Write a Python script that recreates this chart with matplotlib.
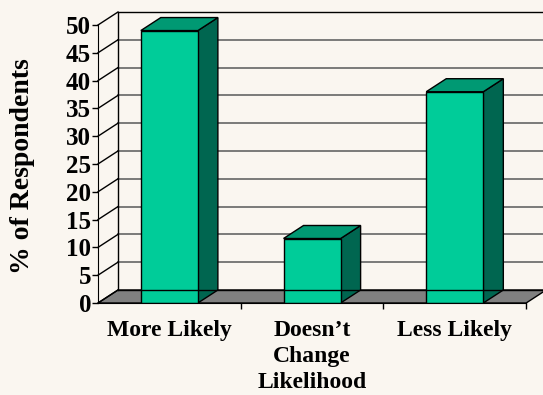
import matplotlib
matplotlib.use("Agg")
import matplotlib.pyplot as plt
from matplotlib.patches import Polygon, Rectangle

# data
categories = ["More Likely", "Doesn\u2019t\nChange\nLikelihood", "Less Likely"]
values = [49, 11.6, 38]
yticks = [0, 5, 10, 15, 20, 25, 30, 35, 40, 45, 50]

plt.rcParams['font.family'] = ['Liberation Serif', 'DejaVu Serif']
plt.rcParams['font.weight'] = 'bold'

bg = '#FAF6F0'
front_c = '#00CC99'
top_c = '#009973'
side_c = '#006650'
floor_c = '#808080'
grid_c = '#707070'

# depth offset of the 3d box (data units)
ddx, ddy = 0.14, 2.34
bw = 0.4

fig = plt.figure(figsize=(5.43, 3.95), dpi=100, facecolor=bg)
ax = fig.add_axes([98/543, 92/395, 445/543, 291/395])
ax.set_facecolor('none')
ax.set_xlim(-0.5, 2.618)
ax.set_ylim(0, 52.34)

n = len(categories)
x0, x1 = -0.5, n - 0.5

# floor
ax.add_patch(Polygon([(x0, 0), (x1, 0), (x1 + ddx, ddy), (x0 + ddx, ddy)],
                     closed=True, fc=floor_c, ec='black', lw=1, zorder=1, clip_on=False))

# back wall gridlines + left wall diagonals
for t in yticks:
    if t > 0:
        ax.plot([x0 + ddx, 2.7], [t + ddy, t + ddy], color=grid_c if t < 50 else 'black',
                lw=1.3 if t < 50 else 1, zorder=1, clip_on=False)
    ax.plot([x0, x0 + ddx], [t, t + ddy], color='black', lw=1, zorder=1, clip_on=False)
ax.plot([x0 + ddx, x0 + ddx], [ddy, 50 + ddy], color='black', lw=1, zorder=1)

# bars
for i, v in enumerate(values):
    l, r = i - bw/2, i + bw/2
    ax.add_patch(Polygon([(r, 0), (r + ddx, ddy), (r + ddx, v + ddy), (r, v)],
                         closed=True, fc=side_c, ec='black', lw=1, zorder=3))
    ax.add_patch(Polygon([(l, v), (r, v), (r + ddx, v + ddy), (l + ddx, v + ddy)],
                         closed=True, fc=top_c, ec='black', lw=1, zorder=3))
    ax.add_patch(Rectangle((l, 0), bw, v, fc=front_c, ec='black', lw=1, zorder=4))

# back edge of floor drawn over bars
ax.plot([x0 + ddx, x1 + ddx], [ddy, ddy], color='black', lw=1, zorder=5, clip_on=False)

for s in ['top', 'right']:
    ax.spines[s].set_visible(False)
ax.spines['left'].set_bounds(0, 50)
ax.spines['bottom'].set_bounds(x0, x1)
ax.spines['left'].set_zorder(6)
ax.spines['bottom'].set_zorder(6)

ax.set_yticks(yticks)
ax.tick_params(axis='y', length=4, width=1, labelsize=18, pad=1)
ax.set_xticks(range(n))
ax.set_xticklabels(categories, fontsize=17, linespacing=1.32)
ax.set_xticks([0.5, 1.5, 2.5], minor=True)
ax.tick_params(axis='x', which='major', length=0, pad=12)
ax.tick_params(axis='x', which='minor', length=4, width=1)
for lab in ax.get_yticklabels() + ax.get_xticklabels():
    lab.set_fontweight('bold')

fig.text(23/543, 1 - 166/395, "% of Respondents", rotation=90, ha='center', va='center',
         fontsize=20, fontweight='bold')

fig.savefig("out.png", dpi=100, facecolor=bg)
